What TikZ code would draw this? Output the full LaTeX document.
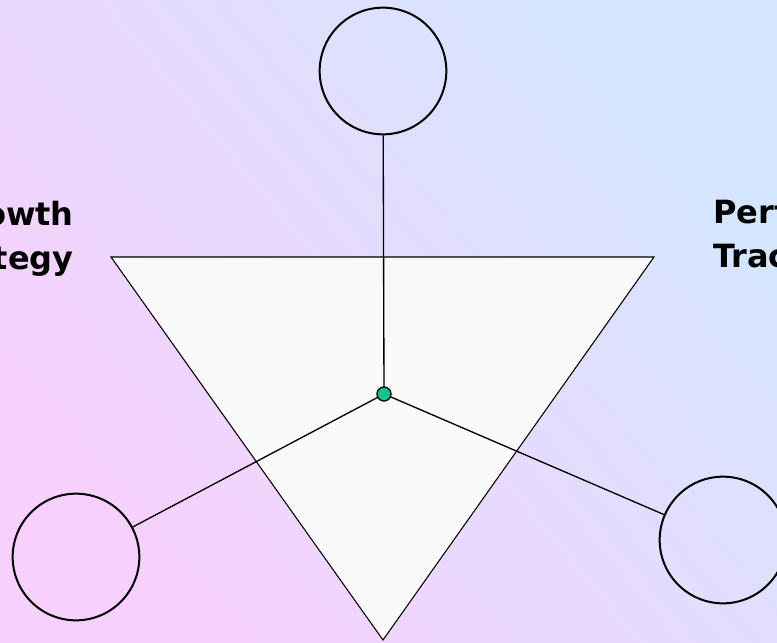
\documentclass[tikz,border=0pt]{standalone}
\usepackage{fontspec}
\setmainfont{DejaVu Sans}
\definecolor{bgpink}{RGB}{248,208,253}
\definecolor{bgblue}{RGB}{212,230,255}
\definecolor{hubgreen}{RGB}{18,196,146}
\definecolor{trifill}{RGB}{249,249,249}
\begin{document}
\begin{tikzpicture}[x=0.75pt, y=-0.75pt,
        role/.style={draw, circle, line width=1.5pt, minimum size=95pt, inner sep=0pt},
        caption/.style={font=\fontsize{24}{33}\selectfont\bfseries, inner sep=0pt}]
        % Background
        \useasboundingbox (0,0) rectangle (777,642);
        \clip (0,0) rectangle (777,642);
        \shade[bottom color=bgpink, top color=bgblue, shading angle=-50] (0,0) rectangle (777,642);

        % Triangle
        \coordinate (tl) at (111,257);
        \coordinate (tr) at (654,257);
        \coordinate (bt) at (383,640);
        \draw[line width=0.8pt, fill=trifill] (tl) -- (tr) -- (bt) -- cycle;

        % Circles
        \coordinate (hub) at (384,394);
        \node[role] (top) at (383,71) {};
        \node[role] (left) at (76,557) {};
        \node[role] (right) at (723,540) {};

        % Spokes
        \draw[line width=1pt] (hub) -- (top);
        \draw[line width=1pt] (hub) -- (left);
        \draw[line width=1pt] (hub) -- (right);
        \node[draw, circle, fill=hubgreen, line width=1pt, minimum size=10.5pt, inner sep=0pt] (hubdot) at (hub) {};

        % Labels
        \node[caption, align=right, anchor=north east] (growth) at (74,201) {Growth\\Strategy};
        \node[caption, align=left, anchor=north west] (perf) at (713,199) {Performance\\Tracking};
    \end{tikzpicture}
\end{document}
